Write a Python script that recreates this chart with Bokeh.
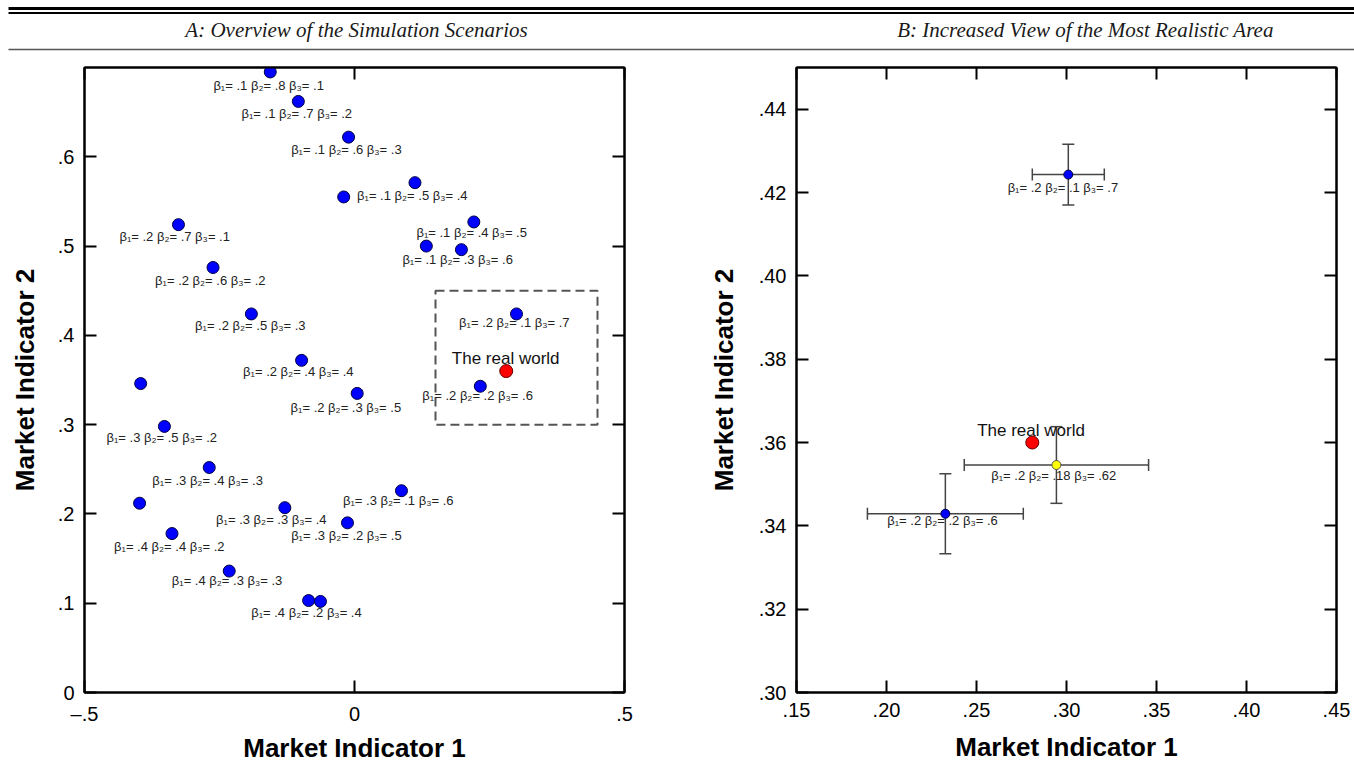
from bokeh.plotting import figure
from bokeh.layouts import column, row
from bokeh.models import Range1d, FixedTicker, LinearAxis, ColumnDataSource, Whisker, TeeHead
from bokeh.core.properties import value
from bokeh.embed import file_html
from bokeh.resources import INLINE

# ---------------- Panel A: all simulation scenarios ----------------
a_x = [-0.156, -0.104, -0.011, -0.020, 0.112, 0.221, 0.133, 0.198,
       -0.326, -0.262, -0.191, -0.098, 0.005, -0.396, -0.352, -0.269,
       -0.398, -0.129, -0.013, -0.338, 0.087, 0.300, 0.233, -0.232,
       -0.085, -0.063]
a_y = [0.695, 0.662, 0.622, 0.555, 0.571, 0.527, 0.500, 0.496,
       0.524, 0.476, 0.424, 0.372, 0.335, 0.346, 0.298, 0.252,
       0.212, 0.207, 0.190, 0.178, 0.226, 0.424, 0.343, 0.136,
       0.103, 0.102]

a_labels = ["β₁= .1 β₂= .8 β₃= .1", "β₁= .1 β₂= .7 β₃= .2", "β₁= .1 β₂= .6 β₃= .3",
            "β₁= .1 β₂= .5 β₃= .4", "β₁= .1 β₂= .4 β₃= .5", "β₁= .1 β₂= .3 β₃= .6",
            "β₁= .2 β₂= .7 β₃= .1", "β₁= .2 β₂= .6 β₃= .2", "β₁= .2 β₂= .5 β₃= .3",
            "β₁= .2 β₂= .4 β₃= .4", "β₁= .2 β₂= .3 β₃= .5", "β₁= .2 β₂= .1 β₃= .7",
            "β₁= .2 β₂= .2 β₃= .6", "β₁= .3 β₂= .5 β₃= .2", "β₁= .3 β₂= .4 β₃= .3",
            "β₁= .3 β₂= .3 β₃= .4", "β₁= .3 β₂= .2 β₃= .5", "β₁= .3 β₂= .1 β₃= .6",
            "β₁= .4 β₂= .4 β₃= .2", "β₁= .4 β₂= .3 β₃= .3", "β₁= .4 β₂= .2 β₃= .4"]
a_label_x = [-0.159, -0.107, -0.015, 0.107, 0.217, 0.191,
             -0.333, -0.267, -0.193, -0.104, -0.016, 0.296,
             0.228, -0.357, -0.272, -0.154, -0.015, 0.081,
             -0.343, -0.236, -0.089]
a_label_y = [0.680, 0.648, 0.608, 0.557, 0.515, 0.485,
             0.511, 0.461, 0.411, 0.360, 0.319, 0.414,
             0.333, 0.286, 0.237, 0.194, 0.176, 0.215,
             0.164, 0.126, 0.090]

real_x = [0.281]
real_y = [0.360]
real_text = ["The real world"]
a_real_label_x = [0.280]
a_real_label_y = [0.374]

zoom_box_x = [0.15, 0.45]
zoom_box_y = [0.30, 0.45]

a_xticks = [-0.5, 0, 0.5]
a_xtick_labels = ["–.5", "0", ".5"]
a_yticks = [0, 0.1, 0.2, 0.3, 0.4, 0.5, 0.6]
a_ytick_labels = ["0", ".1", ".2", ".3", ".4", ".5", ".6"]

# ---------------- Panel B: zoom on the realistic area ----------------
b_x = [0.301, 0.2327]
b_y = [0.4243, 0.3429]
b_xerr = [0.020, 0.0433]
b_yerr = [0.0073, 0.0096]
b_labels = ["β₁= .2 β₂= .1 β₃= .7", "β₁= .2 β₂= .2 β₃= .6"]
b_label_x = [0.298, 0.2311]
b_label_y = [0.4213, 0.3412]

mix_x = [0.2944]
mix_y = [0.3546]
mix_xerr = [0.0512]
mix_yerr = [0.0092]
mix_label = ["β₁= .2 β₂= .18 β₃= .62"]
mix_label_x = [0.2929]
mix_label_y = [0.3522]

b_real_label_x = [0.2803]
b_real_label_y = [0.3629]

b_xticks = [0.15, 0.2, 0.25, 0.3, 0.35, 0.4, 0.45]
b_xtick_labels = [".15", ".20", ".25", ".30", ".35", ".40", ".45"]
b_yticks = [0.30, 0.32, 0.34, 0.36, 0.38, 0.40, 0.42, 0.44]
b_ytick_labels = [".30", ".32", ".34", ".36", ".38", ".40", ".42", ".44"]

header_texts = ["A: Overview of the Simulation Scenarios",
                "B: Increased View of the Most Realistic Area"]

SANS = "Liberation Sans"


def style_axes(p, xt, xl, yt, yl, x_title_standoff, y_title_standoff):
    p.grid.visible = False
    p.outline_line_color = "black"
    p.outline_line_width = 2
    for ax in p.xaxis:
        ax.ticker = FixedTicker(ticks=xt)
        ax.major_label_overrides = dict(zip(xt, xl))
    for ax in p.yaxis:
        ax.ticker = FixedTicker(ticks=yt)
        ax.major_label_overrides = dict(zip(yt, yl))
    for ax in list(p.xaxis) + list(p.yaxis):
        ax.axis_line_width = 2
        ax.axis_line_color = "black"
        ax.major_tick_in = 12
        ax.major_tick_out = 0
        ax.major_tick_line_width = 2
        ax.major_tick_line_color = "black"
        ax.minor_tick_line_color = None
        ax.major_label_text_font = SANS
        ax.major_label_text_font_size = "20px"
        ax.major_label_text_color = "black"
        ax.major_label_standoff = 10
        ax.axis_label_text_font = SANS
        ax.axis_label_text_font_size = "26px"
        ax.axis_label_text_font_style = "bold"
        ax.axis_label_text_color = "black"
    p.xaxis.axis_label = "Market Indicator 1"
    p.yaxis.axis_label = "Market Indicator 2"
    p.xaxis.axis_label_standoff = x_title_standoff
    p.yaxis.axis_label_standoff = y_title_standoff
    # mirrored tick marks (no labels) on the right and on top
    for loc, ticks in (("right", yt), ("above", xt)):
        ax = LinearAxis(ticker=FixedTicker(ticks=ticks),
                        major_label_overrides={t: "" for t in ticks},
                        major_label_text_font_size="0px",
                        major_label_text_color=None,
                        major_label_standoff=0,
                        major_tick_in=12, major_tick_out=0,
                        major_tick_line_width=2, axis_line_width=2,
                        minor_tick_line_color=None)
        p.add_layout(ax, loc)


# ---------------- header strip ----------------
h = figure(width=1354, height=58, x_range=Range1d(0, 1354), y_range=Range1d(58, 0),
           output_backend="svg", toolbar_location=None, min_border=0,
           x_axis_type=None, y_axis_type=None)
h.grid.visible = False
h.outline_line_color = None
h.segment(x0=[8, 8, 8], y0=[8, 12.5, 49], x1=[1354, 1354, 1354], y1=[8, 12.5, 49],
          line_width=[3, 2, 1.5], line_color=["black", "black", "#555555"])
h.text(x=[356, 1085], y=[29, 29], text=header_texts,
       text_font=value("Liberation Serif"), text_font_style="italic",
       text_font_size="21px", text_align="center", text_baseline="middle",
       text_color="#1a1a1a")

# ---------------- panel A ----------------
pa = figure(frame_width=540, frame_height=625, x_range=Range1d(-0.5, 0.5), y_range=Range1d(0, 0.7),
            output_backend="svg", toolbar_location=None,
            min_border_left=84, min_border_right=53, min_border_top=9, min_border_bottom=70)
style_axes(pa, a_xticks, a_xtick_labels, a_yticks, a_ytick_labels, 5, 15)
pa.quad(left=[zoom_box_x[0]], right=[zoom_box_x[1]], bottom=[zoom_box_y[0]], top=[zoom_box_y[1]],
        fill_color=None, line_color="#555555", line_width=2, line_dash="9 5")
pa.scatter(a_x, a_y, size=12, fill_color="#0000ff", line_color="#000040", line_width=1)
pa.scatter(real_x, real_y, size=13, fill_color="#ff0000", line_color="#600000", line_width=1)
pa.text(x=a_label_x, y=a_label_y, text=a_labels, text_font=value(SANS),
        text_font_size="13px", text_align="center", text_baseline="middle", text_color="#222222")
pa.text(x=a_real_label_x, y=a_real_label_y, text=real_text, text_font=value(SANS),
        text_font_size="17px", text_align="center", text_baseline="middle", text_color="#111111")

# ---------------- panel B ----------------
pb = figure(frame_width=540, frame_height=625, x_range=Range1d(0.15, 0.45), y_range=Range1d(0.30, 0.45),
            output_backend="svg", toolbar_location=None,
            min_border_left=119, min_border_right=18, min_border_top=9, min_border_bottom=70)
style_axes(pb, b_xticks, b_xtick_labels, b_yticks, b_ytick_labels, 12, 17)

err_src = ColumnDataSource(dict(
    x=b_x + mix_x, y=b_y + mix_y,
    xl=[v - e for v, e in zip(b_x + mix_x, b_xerr + mix_xerr)],
    xu=[v + e for v, e in zip(b_x + mix_x, b_xerr + mix_xerr)],
    yl=[v - e for v, e in zip(b_y + mix_y, b_yerr + mix_yerr)],
    yu=[v + e for v, e in zip(b_y + mix_y, b_yerr + mix_yerr)],
))
for base, lo, up, dim in (("y", "xl", "xu", "width"), ("x", "yl", "yu", "height")):
    w = Whisker(source=err_src, base=base, lower=lo, upper=up, dimension=dim,
                line_color="#444444", line_width=1.5, level="underlay",
                upper_head=TeeHead(size=12, line_color="#444444", line_width=1.5),
                lower_head=TeeHead(size=12, line_color="#444444", line_width=1.5))
    pb.add_layout(w)

pb.scatter(b_x, b_y, size=9, fill_color="#0000ff", line_color="#000040", line_width=1)
pb.scatter(real_x, real_y, size=13, fill_color="#ff0000", line_color="#600000", line_width=1)
pb.scatter(mix_x, mix_y, size=9, fill_color="#ffff00", line_color="#555555", line_width=1)
pb.text(x=b_label_x + mix_label_x, y=b_label_y + mix_label_y, text=b_labels + mix_label,
        text_font=value(SANS), text_font_size="13px", text_align="center",
        text_baseline="middle", text_color="#222222")
pb.text(x=b_real_label_x, y=b_real_label_y, text=real_text, text_font=value(SANS),
        text_font_size="17px", text_align="center", text_baseline="middle", text_color="#111111")

layout = column(h, row(pa, pb))
open("out.html", "w").write(file_html(layout, INLINE))
